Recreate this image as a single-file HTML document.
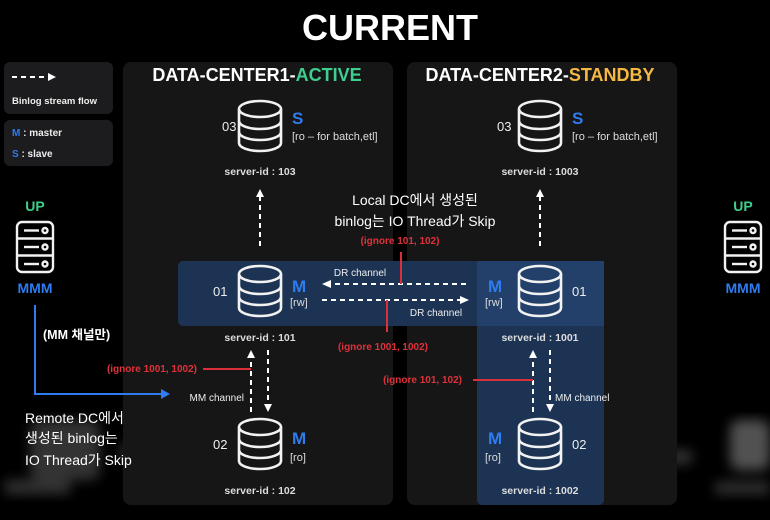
<!DOCTYPE html>
<html><head><meta charset="utf-8"><style>
html,body{margin:0;padding:0;background:#000;}
svg{display:block;font-family:"Liberation Sans","Noto Sans CJK KR",sans-serif;}
</style></head><body>
<svg width="770" height="520" viewBox="0 0 770 520" xmlns="http://www.w3.org/2000/svg">
<defs>
<g id="db" fill="none" stroke="#f2f2f2" stroke-width="2.6">
<path d="M-21,8 A21,8 0 0 1 21,8 L21,42 A21,8 0 0 1 -21,42 Z"/>
<path d="M-21,8 A21,8 0 0 0 21,8"/>
<path d="M-21,20 A21,8 0 0 0 21,20"/>
<path d="M-21,31 A21,8 0 0 0 21,31"/>
</g>
<g id="srv" fill="none" stroke="#f2f2f2" stroke-width="2.4">
<rect x="0" y="0" width="36" height="50" rx="5"/>
<line x1="0" y1="16.5" x2="36" y2="16.5"/><line x1="0" y1="33.5" x2="36" y2="33.5"/>
<line x1="7" y1="8.5" x2="22" y2="8.5"/><line x1="7" y1="25" x2="22" y2="25"/><line x1="7" y1="42" x2="22" y2="42"/>
<circle cx="28" cy="8.5" r="2.5"/><circle cx="28" cy="25" r="2.5"/><circle cx="28" cy="42" r="2.5"/>
</g>
<filter id="bl"><feGaussianBlur stdDeviation="6"/></filter>
</defs>

<g filter="url(#bl)" fill="#555" opacity="0.6">
<rect x="30" y="420" width="70" height="60" rx="10"/>
<rect x="5" y="480" width="65" height="14"/>
<rect x="120" y="445" width="50" height="14"/>
<rect x="617" y="450" width="75" height="14"/>
<rect x="730" y="420" width="40" height="50" rx="10" fill="#888"/>
<rect x="715" y="482" width="55" height="12"/>
</g>

<text x="390" y="40" text-anchor="middle" fill="#fff" font-size="36" font-weight="bold">CURRENT</text>

<rect x="4" y="62" width="109" height="52" rx="6" fill="#1c1c1e"/>
<line x1="12" y1="77" x2="48" y2="77" stroke="#fff" stroke-width="2" stroke-dasharray="5,4"/>
<polygon points="48,73 56,77 48,81" fill="#fff"/>
<text x="12" y="104" fill="#eee" font-size="9.5" font-weight="bold">Binlog stream flow</text>
<rect x="4" y="120" width="109" height="46" rx="6" fill="#1c1c1e"/>
<text x="12" y="136" fill="#eee" font-size="10" font-weight="bold"><tspan fill="#2f7bf0">M</tspan> : master</text>
<text x="12" y="157" fill="#eee" font-size="10" font-weight="bold"><tspan fill="#2f7bf0">S</tspan> : slave</text>

<rect x="123" y="62" width="270" height="443" rx="8" fill="#161616"/>
<rect x="407" y="62" width="270" height="443" rx="8" fill="#161616"/>
<rect x="477" y="261" width="127" height="244" rx="5" fill="#1c3353"/>
<rect x="178" y="261" width="426" height="65" rx="5" fill="#1c3353"/>
<rect x="477" y="261" width="127" height="65" fill="#23406a"/>

<text x="257" y="81" text-anchor="middle" fill="#fff" font-size="18" font-weight="bold">DATA-CENTER1-<tspan fill="#3ecf8e">ACTIVE</tspan></text>
<text x="540" y="81" text-anchor="middle" fill="#fff" font-size="18" font-weight="bold">DATA-CENTER2-<tspan fill="#f5b942">STANDBY</tspan></text>

<use href="#db" x="260" y="101"/>
<text x="222" y="131" fill="#eee" font-size="13">03</text>
<text x="292" y="124" fill="#2f7bf0" font-size="17" font-weight="bold">S</text>
<text x="292" y="140" fill="#ddd" font-size="11">[ro – for batch,etl]</text>
<text x="260" y="175" text-anchor="middle" fill="#ddd" font-size="10.5" font-weight="bold">server-id : 103</text>

<use href="#db" x="260" y="266"/>
<text x="213" y="296" fill="#eee" font-size="13">01</text>
<text x="292" y="292" fill="#2f7bf0" font-size="17" font-weight="bold">M</text>
<text x="290" y="306" fill="#ddd" font-size="11">[rw]</text>
<text x="260" y="341" text-anchor="middle" fill="#ddd" font-size="10.5" font-weight="bold">server-id : 101</text>

<use href="#db" x="260" y="419"/>
<text x="213" y="449" fill="#eee" font-size="13">02</text>
<text x="292" y="444" fill="#2f7bf0" font-size="17" font-weight="bold">M</text>
<text x="290" y="461" fill="#ddd" font-size="11">[ro]</text>
<text x="260" y="494" text-anchor="middle" fill="#ddd" font-size="10.5" font-weight="bold">server-id : 102</text>

<use href="#db" x="540" y="101"/>
<text x="497" y="131" fill="#eee" font-size="13">03</text>
<text x="572" y="124" fill="#2f7bf0" font-size="17" font-weight="bold">S</text>
<text x="572" y="140" fill="#ddd" font-size="11">[ro – for batch,etl]</text>
<text x="540" y="175" text-anchor="middle" fill="#ddd" font-size="10.5" font-weight="bold">server-id : 1003</text>

<use href="#db" x="540" y="266"/>
<text x="572" y="296" fill="#eee" font-size="13">01</text>
<text x="488" y="292" fill="#2f7bf0" font-size="17" font-weight="bold">M</text>
<text x="485" y="306" fill="#ddd" font-size="11">[rw]</text>
<text x="540" y="341" text-anchor="middle" fill="#ddd" font-size="10.5" font-weight="bold">server-id : 1001</text>

<use href="#db" x="540" y="419"/>
<text x="572" y="449" fill="#eee" font-size="13">02</text>
<text x="488" y="444" fill="#2f7bf0" font-size="17" font-weight="bold">M</text>
<text x="485" y="461" fill="#ddd" font-size="11">[ro]</text>
<text x="540" y="494" text-anchor="middle" fill="#ddd" font-size="10.5" font-weight="bold">server-id : 1002</text>

<g stroke="#fff" stroke-width="2" stroke-dasharray="5,4" fill="none">
<line x1="260" y1="246" x2="260" y2="196"/>
<line x1="540" y1="246" x2="540" y2="196"/>
<line x1="466" y1="284" x2="330" y2="284"/>
<line x1="322" y1="300" x2="460" y2="300"/>
<line x1="251" y1="412" x2="251" y2="358"/>
<line x1="268" y1="350" x2="268" y2="404"/>
<line x1="533" y1="412" x2="533" y2="358"/>
<line x1="550" y1="350" x2="550" y2="404"/>
</g>
<g fill="#fff">
<polygon points="256,197 260,189 264,197"/>
<polygon points="536,197 540,189 544,197"/>
<polygon points="331,280 322,284 331,288"/>
<polygon points="460,296 469,300 460,304"/>
<polygon points="247,358 251,350 255,358"/>
<polygon points="264,404 268,412 272,404"/>
<polygon points="529,358 533,350 537,358"/>
<polygon points="546,404 550,412 554,404"/>
</g>
<text x="360" y="276" text-anchor="middle" fill="#eee" font-size="10">DR channel</text>
<text x="436" y="316" text-anchor="middle" fill="#eee" font-size="10">DR channel</text>
<text x="244" y="401" text-anchor="end" fill="#eee" font-size="10">MM channel</text>
<text x="555" y="401" fill="#eee" font-size="10">MM channel</text>

<g stroke="#d9303c" stroke-width="2">
<line x1="401" y1="252" x2="401" y2="284"/>
<line x1="387" y1="300" x2="387" y2="332"/>
<line x1="203" y1="369" x2="251" y2="369"/>
<line x1="473" y1="380" x2="533" y2="380"/>
</g>
<g fill="#e0313b" font-size="10" font-weight="bold">
<text x="400" y="244" text-anchor="middle">(ignore 101, 102)</text>
<text x="383" y="350" text-anchor="middle">(ignore 1001, 1002)</text>
<text x="197" y="372" text-anchor="end">(ignore 1001, 1002)</text>
<text x="462" y="383" text-anchor="end">(ignore 101, 102)</text>
</g>

<text x="415" y="205" text-anchor="middle" fill="#fff" font-size="14">Local DC에서 생성된</text>
<text x="415" y="226" text-anchor="middle" fill="#fff" font-size="14">binlog는 IO Thread가 Skip</text>

<text x="35" y="211" text-anchor="middle" fill="#3ecf8e" font-size="14" font-weight="bold">UP</text>
<use href="#srv" x="17" y="222"/>
<text x="35" y="293" text-anchor="middle" fill="#2f7bf0" font-size="14" font-weight="bold">MMM</text>
<polyline points="35,305 35,394 162,394" fill="none" stroke="#2f7bf0" stroke-width="2"/>
<polygon points="161,389 170,394 161,399" fill="#2f7bf0"/>
<text x="43" y="339" fill="#fff" font-size="12.5" font-weight="bold">(MM 채널만)</text>
<g fill="#fff" font-size="14">
<text x="25" y="423">Remote DC에서</text>
<text x="25" y="443">생성된 binlog는</text>
<text x="25" y="465">IO Thread가 Skip</text>
</g>

<text x="743" y="211" text-anchor="middle" fill="#3ecf8e" font-size="14" font-weight="bold">UP</text>
<use href="#srv" x="725" y="222"/>
<text x="743" y="293" text-anchor="middle" fill="#2f7bf0" font-size="14" font-weight="bold">MMM</text>
</svg>
</body></html>
